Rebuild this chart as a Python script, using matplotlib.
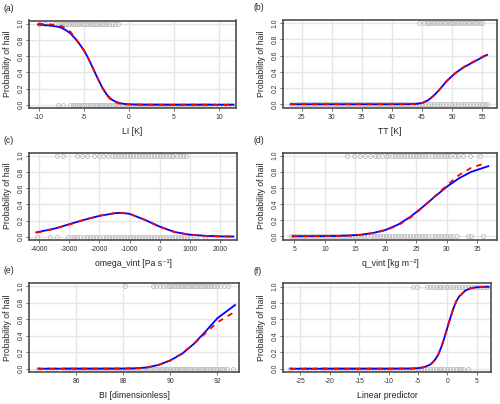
import matplotlib
matplotlib.use("Agg")
import matplotlib.pyplot as plt

plt.rcParams['font.family'] = ['Liberation Sans', 'DejaVu Sans']
plt.rcParams['axes.unicode_minus'] = False

# ---- (a) LI ----
li_x = [-10.1, -9, -8, -7.5, -7, -6.5, -6, -5.5, -5, -4.5, -4, -3.5, -3, -2.5, -2, -1.5, -1, -0.5, 0, 1, 2, 4, 6, 8, 10, 11.6]
li_blue = [0.99, 0.98, 0.965, 0.95, 0.92, 0.88, 0.82, 0.75, 0.67, 0.57, 0.45, 0.33, 0.22, 0.13, 0.07, 0.038, 0.02, 0.01, 0.005, 0.002, 0.001, 0, 0, 0, 0, 0]
li_red = [1.0, 0.995, 0.985, 0.97, 0.945, 0.9, 0.83, 0.75, 0.665, 0.565, 0.45, 0.33, 0.215, 0.12, 0.06, 0.03, 0.013, 0.006, 0.003, 0.001, 0, 0, 0, 0, 0, 0]
li_hail = [-10.0, -9.3, -8.2, -7.8, -7.5, -7.25, -7.0, -6.75, -6.5, -6.25, -6.0, -5.75, -5.5, -5.25, -5.0, -4.75,
           -4.5, -4.25, -4.0, -3.75, -3.5, -3.25, -3.0, -2.75, -2.5, -2.2, -1.9, -1.5, -1.2]
li_none = [-7.9, -7.3, -6.5, -6.25, -6.0, -5.75, -5.5, -5.25, -5.0, -4.75, -4.5, -4.25, -4.0, -3.75, -3.5, -3.25,
           -3.0, -2.75, -2.5, -2.25, -2.0, -1.75, -1.5, -1.25, -1.0, -0.75, -0.5, -0.25, 0.0, 0.25, 0.5, 0.75,
           1.0, 1.25, 1.5, 1.75, 2.0, 2.25, 2.5, 2.75, 3.0, 3.25, 3.5, 3.75, 4.0, 4.25, 4.5, 4.75, 5.0, 5.25,
           5.5, 5.75, 6.0, 6.25, 6.5, 6.75, 7.0, 7.25, 7.5, 7.75, 8.0, 8.25, 8.5, 8.75, 9.0, 9.5, 10.0, 10.5,
           11.0, 11.5]

# ---- (b) TT ----
tt_x = [23.2, 30, 40, 43, 44, 45, 46, 47, 48, 49, 50, 51, 52, 53, 54, 55, 55.8]
tt_blue = [0, 0, 0, 0.001, 0.004, 0.015, 0.05, 0.11, 0.19, 0.28, 0.35, 0.41, 0.46, 0.5, 0.54, 0.58, 0.61]
tt_red = [0, 0, 0, 0.001, 0.004, 0.016, 0.05, 0.11, 0.19, 0.28, 0.355, 0.415, 0.465, 0.505, 0.545, 0.585, 0.62]
tt_hail = [44.5, 45.3, 45.8, 46.2, 46.6, 47.0, 47.4, 47.8, 48.2, 48.6, 49.0, 49.4, 49.8, 50.2, 50.6, 51.0,
           51.4, 51.8, 52.2, 52.6, 53.0, 53.4, 53.8, 54.2, 54.6, 55.0]
tt_none = [23.2, 24.0, 24.5, 25.0, 25.5, 26.0, 26.5, 27.0, 27.5, 28.0, 28.5, 29.0, 29.5, 30.0, 30.5, 31.0,
           31.5, 32.0, 32.5, 33.0, 33.5, 34.0, 34.5, 35.0, 35.5, 36.0, 36.5, 37.0, 37.5, 38.0, 38.5, 39.0,
           39.5, 40.0, 40.5, 41.0, 41.5, 42.0, 42.5, 43.0, 43.5, 44.0, 44.5, 45.0, 45.5, 46.0, 46.5, 47.0,
           47.5, 48.0, 48.5, 49.0, 49.5, 50.0, 50.5, 51.0, 51.5, 52.0, 52.5, 53.0, 53.5, 54.0, 54.5, 55.0,
           55.4, 55.8]

# ---- (c) omega_vint ----
om_x = [-4100, -3500, -3000, -2500, -2000, -1500, -1300, -1000, -500, 0, 500, 1000, 1500, 2000, 2450]
om_blue = [0.054, 0.10, 0.155, 0.21, 0.258, 0.29, 0.295, 0.283, 0.21, 0.125, 0.058, 0.026, 0.012, 0.005, 0.003]
om_red = [0.05, 0.098, 0.152, 0.21, 0.26, 0.292, 0.296, 0.283, 0.21, 0.124, 0.057, 0.025, 0.011, 0.004, 0.002]
om_hail = [-3400, -3200, -2760, -2590, -2400, -2180, -2010, -1870, -1710, -1600, -1490, -1400, -1300, -1200,
           -1100, -1000, -900, -800, -700, -600, -500, -400, -300, -200, -100, 0, 100, 200, 300, 400,
           450, 565, 675, 765, 875]
om_none = [-4070, -3650, -3400, -3040, -2900, -2850, -2760, -2650, -2500, -2400, -2300, -2200, -2100, -2000,
           -1900, -1800, -1700, -1600, -1500, -1400, -1300, -1200, -1100, -1000, -900, -800, -700, -600,
           -500, -400, -300, -200, -100, 0, 100, 200, 300, 400, 500, 600, 700, 800, 900, 1000, 1200, 1500]

# ---- (d) q_vint ----
q_x_blue = [4.7, 8, 10, 12, 14, 16, 18, 20, 22, 24, 26, 28, 30, 32, 34, 36.8]
q_blue = [0, 0.001, 0.002, 0.004, 0.009, 0.02, 0.042, 0.08, 0.145, 0.24, 0.36, 0.49, 0.615, 0.72, 0.80, 0.87]
q_x_red = [4.7, 8, 10, 12, 14, 16, 18, 20, 22, 24, 26, 28, 30, 32, 34, 36.2]
q_red = [0, 0.001, 0.002, 0.004, 0.009, 0.02, 0.04, 0.075, 0.135, 0.23, 0.355, 0.495, 0.63, 0.76, 0.85, 0.905]
q_hail = [13.6, 14.8, 15.8, 16.6, 17.4, 18.2, 18.8, 19.4, 20.0, 20.4, 21.0, 21.5, 22.0, 22.5, 23.0, 23.5,
          24.0, 24.5, 25.0, 25.5, 26.0, 26.5, 27.0, 27.5, 28.0, 28.5, 29.0, 29.5, 30.0, 30.5, 31.3, 31.9,
          32.7, 33.8, 35.4]
q_none = [4.5, 5.0, 5.5, 6.0, 6.5, 7.0, 7.5, 8.0, 8.5, 9.0, 9.5, 10.0, 10.5, 11.0, 11.5, 12.0, 12.5, 13.0,
          13.5, 14.0, 14.5, 15.0, 15.5, 16.0, 16.5, 17.0, 17.5, 18.0, 18.5, 19.0, 19.5, 20.0, 20.5, 21.0,
          21.5, 22.0, 22.5, 23.0, 23.5, 24.0, 24.5, 25.0, 25.5, 26.0, 26.5, 27.0, 27.5, 28.0, 28.5, 29.0,
          29.5, 30.0, 30.5, 31.0, 31.6, 33.5, 34.0, 36.0]

# ---- (e) BI ----
bi_x = [84.4, 86, 87, 88, 88.5, 89, 89.5, 90, 90.5, 91, 91.5, 92, 92.75]
bi_blue = [0, 0, 0, 0.001, 0.004, 0.015, 0.045, 0.1, 0.18, 0.3, 0.45, 0.61, 0.77]
bi_red = [0, 0, 0, 0.001, 0.003, 0.012, 0.045, 0.1, 0.185, 0.3, 0.43, 0.56, 0.69]
bi_hail = [88.08, 89.28, 89.4, 89.55, 89.7, 89.85, 89.95, 90.05, 90.15, 90.25, 90.35, 90.45, 90.55, 90.65,
           90.75, 90.85, 90.95, 91.05, 91.15, 91.25, 91.35, 91.45, 91.55, 91.65, 91.75, 91.85, 92.0, 92.1,
           92.28, 92.47]
bi_none = [84.4, 84.8, 85.1, 85.5, 85.6, 85.7, 85.8, 85.9, 86.0, 86.1, 86.2, 86.3, 86.4, 86.5, 86.6, 86.7,
           86.8, 86.9, 87.0, 87.1, 87.2, 87.3, 87.4, 87.5, 87.6, 87.7, 87.8, 87.9, 88.0, 88.1, 88.2, 88.3,
           88.4, 88.5, 88.6, 88.7, 88.8, 88.9, 89.0, 89.1, 89.2, 89.3, 89.4, 89.5, 89.6, 89.7, 89.8, 89.9,
           90.0, 90.1, 90.2, 90.3, 90.4, 90.5, 90.6, 90.7, 90.8, 90.9, 91.0, 91.1, 91.2, 91.3, 91.4, 91.5,
           91.6, 91.7, 91.8, 91.9, 92.0, 92.1, 92.2, 92.3, 92.4, 92.68]

# ---- (f) linear predictor ----
lp_x = [-26.7, -20, -10, -6, -5, -4, -3, -2.5, -2, -1.5, -1, -0.5, 0, 0.5, 1, 1.5, 2, 3, 4, 5, 7]
lp_blue = [0, 0, 0, 0.002, 0.007, 0.018, 0.047, 0.076, 0.12, 0.18, 0.27, 0.38, 0.5, 0.62, 0.73, 0.82, 0.88, 0.95, 0.982, 0.993, 0.999]
lp_red = [0, 0, 0, 0.002, 0.007, 0.018, 0.047, 0.076, 0.12, 0.18, 0.27, 0.38, 0.5, 0.62, 0.73, 0.82, 0.88, 0.95, 0.982, 0.993, 0.999]
lp_hail = [-5.8, -5.24, -3.54, -3.0, -2.5, -2.0, -1.5, -1.0, -0.5, 0.0, 0.5, 1.0, 1.5, 2.0, 2.5, 3.0, 3.5,
           4.0, 4.5, 5.0, 5.5, 6.0, 6.5, 6.7]
lp_none = [-26.7, -25.1, -24.3, -23.5, -22.6, -21.4, -21.0, -20.5, -20.0, -19.5, -19.0, -18.5, -18.0, -17.5,
           -17.0, -16.5, -16.0, -15.5, -15.0, -14.5, -14.0, -13.5, -13.0, -12.5, -12.0, -11.5, -11.0, -10.5,
           -10.0, -9.5, -9.0, -8.5, -8.0, -7.5, -7.0, -6.5, -6.0, -5.5, -5.0, -4.5, -4.0, -3.5, -3.0, -2.5,
           -2.0, -1.5, -1.0, -0.5, 0.0, 0.5, 1.0, 1.5, 2.0, 2.3, 2.7, 3.5]

W, H = 500, 404
fig = plt.figure(figsize=(W / 100, H / 100), dpi=100)

# panel: (label, box px l, r, t, b, xlim, xticks, xlabel, curves, points)
panels = [
    ("(a)", (29, 236, 20.5, 108), (-11.11, 11.89), [-10, -5, 0, 5, 10], "LI [K]",
     (li_x, li_blue, li_x, li_red), li_hail, li_none),
    ("(b)", (283, 497, 20, 107.5), (21.89, 57.44), [25, 30, 35, 40, 45, 50, 55], "TT [K]",
     (tt_x, tt_blue, tt_x, tt_red), tt_hail, tt_none),
    ("(c)", (29, 237, 152.5, 240), (-4342, 2568), [-4000, -3000, -2000, -1000, 0, 1000, 2000],
     "omega_vint [Pa s\u207b\u00b9]", (om_x, om_blue, om_x, om_red), om_hail, om_none),
    ("(d)", (283, 497, 152.5, 239.5), (3.15, 38.23), [5, 10, 15, 20, 25, 30, 35],
     "q_vint [kg m\u207b\u00b2]", (q_x_blue, q_blue, q_x_red, q_red), q_hail, q_none),
    ("(e)", (29, 239, 282.7, 372), (84.0, 92.92), [86, 88, 90, 92], "BI [dimensionless]",
     (bi_x, bi_blue, bi_x, bi_red), bi_hail, bi_none),
    ("(f)", (283, 491, 283.4, 372), (-27.96, 7.42), [-25, -20, -15, -10, -5, 0, 5], "Linear predictor",
     (lp_x, lp_blue, lp_x, lp_red), lp_hail, lp_none),
]

yticks = [0.0, 0.2, 0.4, 0.6, 0.8, 1.0]

for tag, (l, r, t, b), xlim, xticks, xlabel, (xb, yb, xr, yr), hail, none in panels:
    ax = fig.add_axes([l / W, 1 - b / H, (r - l) / W, (b - t) / H])
    ax.set_xlim(*xlim)
    ax.set_ylim(-0.04, 1.04)
    ax.set_xticks(xticks)
    ax.set_yticks(yticks)
    ax.set_yticklabels([f"{v:.1f}" for v in yticks], rotation=90, va="center")
    ax.grid(True, color="#e6e6e6", lw=1.0, zorder=0)
    ax.set_axisbelow(True)
    ax.plot(hail, [1] * len(hail), "o", ms=2.9, mfc="none", mec="#bdbdbd", mew=0.6, zorder=2)
    ax.plot(none, [0] * len(none), "o", ms=2.9, mfc="none", mec="#bdbdbd", mew=0.6, zorder=2)
    ax.plot(xb, yb, color="#0000ff", lw=1.3, zorder=3)
    ax.plot(xr, yr, color="#ff0000", lw=1.3, ls=(0, (3, 3)), zorder=4)
    for s in ax.spines.values():
        s.set_color("#4d4d4d")
        s.set_linewidth(1.2)
    ax.tick_params(axis="both", length=2, width=0.6, color="#555555", labelsize=4.9,
                   labelcolor="#333333")
    ax.tick_params(axis="x", pad=2.5)
    ax.tick_params(axis="y", pad=1.2)
    ax.set_xlabel(xlabel, fontsize=6.2, color="#222222")
    ax.set_ylabel("Probability of hail", fontsize=6.2, color="#222222")
    ax.xaxis.set_label_coords(0.5, -19.5 / (b - t))
    ax.yaxis.set_label_coords(-16.5 / (r - l), 0.5)
    fig.text((l - 26) / W if l < 100 else (l - 30) / W, 1 - (t - 12) / H, tag, fontsize=6.2,
             va="center", ha="left", color="#222222")

fig.savefig("out.png", dpi=100)
